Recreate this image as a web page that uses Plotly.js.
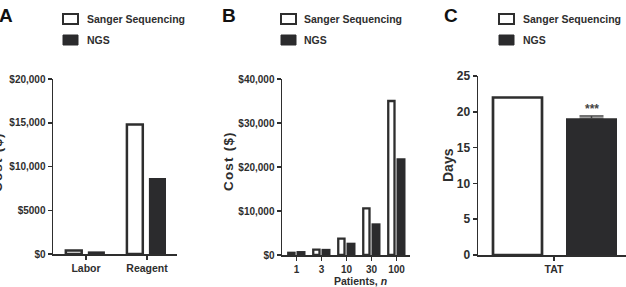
<!DOCTYPE html>
<html>
<head>
<meta charset="utf-8">
<script src="https://cdn.plot.ly/plotly-3.0.1.min.js"></script>
<style>html,body{margin:0;padding:0;background:#fff;}#chart{width:626px;height:287px;}</style>
</head>
<body>
<div id="chart"></div>
<script>
// ---- data ----
const seriesNames = ['Sanger Sequencing', 'NGS'];
const costCategories = ['Labor', 'Reagent'];
const costSanger = [400, 14800];
const costNGS = [300, 8700];
const costTickVals = [0, 5000, 10000, 15000, 20000];
const costTickText = ['$0', '$5000', '$10,000', '$15,000', '$20,000'];

const patientCategories = ['1', '3', '10', '30', '100'];
const patientSanger = [500, 1200, 3700, 10600, 35000];
const patientNGS = [900, 1400, 2800, 7200, 22000];
const patientTickVals = [0, 10000, 20000, 30000, 40000];
const patientTickText = ['$0', '$10,000', '$20,000', '$30,000', '$40,000'];

const tatCategories = ['TAT'];
const tatSanger = [22];
const tatNGS = [19.1];
const tatNGSError = [0.3];
const tatTickVals = [0, 5, 10, 15, 20, 25];

// ---- layout helpers ----
const W = 626, H = 287;
const px = v => v / W;
const py = v => 1 - v / H;
const DARK = '#2e2e2e';
const FILL = '#2b2b2d';
const fam = 'Liberation Sans, Arial, sans-serif';
const tickFont = {family: fam, size: 10, color: DARK, weight: 'bold'};
const tickFontC = {family: fam, size: 12, color: DARK, weight: 'bold'};

const traces = [
  {type: 'bar', x: costCategories, y: costSanger, name: seriesNames[0], xaxis: 'x', yaxis: 'y',
   offset: -0.33, width: 0.26, marker: {color: '#ffffff', line: {color: DARK, width: 2.5}}},
  {type: 'bar', x: costCategories, y: costNGS, name: seriesNames[1], xaxis: 'x', yaxis: 'y',
   offset: 0.03, width: 0.28, marker: {color: FILL, line: {width: 0}}},
  {type: 'bar', x: patientCategories, y: patientSanger, name: seriesNames[0], xaxis: 'x2', yaxis: 'y2',
   offset: -0.33, width: 0.25, marker: {color: '#ffffff', line: {color: DARK, width: 2.3}}},
  {type: 'bar', x: patientCategories, y: patientNGS, name: seriesNames[1], xaxis: 'x2', yaxis: 'y2',
   offset: 0.0, width: 0.36, marker: {color: FILL, line: {width: 0}}},
  {type: 'bar', x: tatCategories, y: tatSanger, name: seriesNames[0], xaxis: 'x3', yaxis: 'y3',
   offset: -0.61, width: 0.49, marker: {color: '#ffffff', line: {color: DARK, width: 2.7}}},
  {type: 'bar', x: tatCategories, y: tatNGS, name: seriesNames[1], xaxis: 'x3', yaxis: 'y3',
   offset: 0.12, width: 0.51, marker: {color: FILL, line: {width: 0}},
   error_y: {type: 'data', array: tatNGSError, arrayminus: [0], symmetric: false, color: '#444', thickness: 1.5, width: 12}}
];

function xAx(domain, range, font) {
  return {domain: domain, range: range, type: 'category', showline: true, linecolor: DARK, linewidth: 1.5,
    ticks: 'outside', ticklen: 4, tickwidth: 1.5, tickcolor: DARK, showgrid: false, zeroline: false,
    tickfont: font, fixedrange: true};
}
function yAx(domain, range, vals, text, font) {
  return {domain: domain, range: range, tickvals: vals, ticktext: text, showline: true, linecolor: DARK, linewidth: 1.5,
    ticks: 'outside', ticklen: 4, tickwidth: 1.5, tickcolor: DARK, showgrid: false, zeroline: false,
    tickfont: font, fixedrange: true};
}

const layout = {
  width: W, height: H, margin: {l: 0, r: 0, t: 0, b: 0}, paper_bgcolor: '#fff', plot_bgcolor: 'rgba(0,0,0,0)',
  showlegend: false, barmode: 'overlay',
  xaxis: Object.assign(xAx([px(53), px(177)], [-0.54, 1.49], Object.assign({}, tickFont, {size: 10.5})), {anchor: 'y'}),
  yaxis: Object.assign(yAx([py(254), py(79)], [0, 20000], costTickVals, costTickText, tickFont), {anchor: 'x'}),
  xaxis2: Object.assign(xAx([px(282), px(410)], [-0.58, 4.54], tickFont), {anchor: 'y2'}),
  yaxis2: Object.assign(yAx([py(255), py(79)], [0, 40000], patientTickVals, patientTickText, tickFont), {anchor: 'x2'}),
  xaxis3: Object.assign(xAx([px(478), px(626)], [-0.76, 0.72], Object.assign({}, tickFont, {size: 10.5})), {anchor: 'y3'}),
  yaxis3: Object.assign(yAx([py(255), py(76)], [0, 25], tatTickVals, null, tickFontC), {anchor: 'x3'}),
  shapes: [],
  annotations: []
};

// legends (one per panel)
const legendFont = {family: fam, size: 10.5, color: DARK, weight: 'bold'};
const legendPos = [{sx: 63, tx: 85}, {sx: 281, tx: 302}, {sx: 499, tx: 521}];
legendPos.forEach(p => {
  layout.shapes.push({type: 'rect', xref: 'paper', yref: 'paper', x0: px(p.sx), x1: px(p.sx + 15), y0: py(24), y1: py(14),
    fillcolor: '#fff', line: {color: DARK, width: 2}});
  layout.shapes.push({type: 'rect', xref: 'paper', yref: 'paper', x0: px(p.sx), x1: px(p.sx + 15), y0: py(45), y1: py(35),
    fillcolor: FILL, line: {color: FILL, width: 1}});
  layout.annotations.push({xref: 'paper', yref: 'paper', x: px(p.tx), y: py(19), xanchor: 'left', yanchor: 'middle',
    text: seriesNames[0], showarrow: false, font: legendFont});
  layout.annotations.push({xref: 'paper', yref: 'paper', x: px(p.tx), y: py(40), xanchor: 'left', yanchor: 'middle',
    text: seriesNames[1], showarrow: false, font: legendFont});
});

// panel letters
[['A', 6], ['B', 229], ['C', 451]].forEach(l => {
  layout.annotations.push({xref: 'paper', yref: 'paper', x: px(l[1]), y: py(15), xanchor: 'center', yanchor: 'middle',
    text: l[0], showarrow: false, font: {family: fam, size: 19, color: '#111', weight: 'bold'}});
});

// axis titles
const costTitle = 'C\u200Ao\u200As\u200At\u2009 (\u200A$\u200A)';
const titleFont = {family: fam, size: 13.5, color: DARK, weight: 'bold'};
layout.annotations.push({xref: 'paper', yref: 'paper', x: px(-3), y: py(163), textangle: -90, xanchor: 'center', yanchor: 'middle',
  text: costTitle, showarrow: false, font: titleFont});
layout.annotations.push({xref: 'paper', yref: 'paper', x: px(228), y: py(162), textangle: -90, xanchor: 'center', yanchor: 'middle',
  text: costTitle, showarrow: false, font: titleFont});
layout.annotations.push({xref: 'paper', yref: 'paper', x: px(448), y: py(165), textangle: -90, xanchor: 'center', yanchor: 'middle',
  text: 'Days', showarrow: false, font: Object.assign({}, titleFont, {size: 14})});
layout.annotations.push({xref: 'paper', yref: 'paper', x: px(360), y: py(281), xanchor: 'center', yanchor: 'middle',
  text: 'Patients, <i>n</i>', showarrow: false, font: {family: fam, size: 10.5, color: DARK, weight: 'bold'}});

// significance marker above NGS bar in panel C
layout.annotations.push({xref: 'x3', yref: 'y3', x: 0.375, y: tatNGS[0] + tatNGSError[0], yshift: 7, xanchor: 'center', yanchor: 'middle',
  text: '***', showarrow: false, font: {family: fam, size: 12, color: '#444', weight: 'bold'}});

Plotly.newPlot('chart', traces, layout, {staticPlot: true, displayModeBar: false});
</script>
</body>
</html>
